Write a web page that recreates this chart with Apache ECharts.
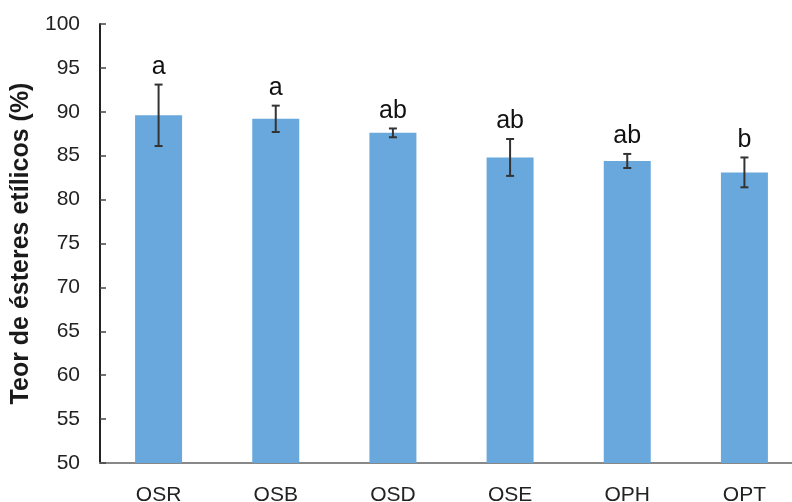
<!DOCTYPE html>
<html><head><meta charset="utf-8">
<script src="https://cdn.jsdelivr.net/npm/echarts@6/dist/echarts.min.js"></script>
<style>html,body{margin:0;padding:0;background:#fff;overflow:hidden}#c{width:803px;height:502px}</style>
</head><body><div id="c"></div>
<script>
const categories = ['OSR','OSB','OSD','OSE','OPH','OPT'];
const means = [89.6, 89.2, 87.6, 84.8, 84.4, 83.1];
const errors = [3.5, 1.5, 0.5, 2.1, 0.8, 1.7];
const letters = ['a','a','ab','ab','ab','b'];
const yTicks = [50,55,60,65,70,75,80,85,90,95,100];

const chart = echarts.init(document.getElementById('c'));
const font = 'Liberation Sans, Arial, Helvetica, sans-serif';
chart.setOption({
  animation: false,
  grid: {left: 100, top: 24, bottom: 39, right: 0, outerBoundsMode: 'none', containLabel: false},
  xAxis: {
    type: 'category', data: categories,
    axisLine: {lineStyle: {color: '#888', width: 2}},
    axisTick: {show: false},
    axisLabel: {color: '#222', fontSize: 21, fontFamily: font, margin: 22}
  },
  yAxis: {
    type: 'value', min: yTicks[0], max: yTicks[yTicks.length-1], interval: 5,
    name: 'Teor de ésteres etílicos (%)', nameLocation: 'middle', nameGap: 63,
    nameTextStyle: {fontSize: 25, fontWeight: 'bold', color: '#1a1a1a', fontFamily: font},
    axisLine: {show: true, lineStyle: {color: '#222', width: 2}},
    axisTick: {show: true, inside: true, length: 6, lineStyle: {color: '#444', width: 1.5}},
    splitLine: {show: false},
    axisLabel: {color: '#222', fontSize: 21, fontFamily: font, margin: 20}
  },
  series: [
    {type: 'bar', data: means, barWidth: 47, itemStyle: {color: '#69a8dc'}},
    {type: 'custom', data: means.map((m,i)=>[i, m, errors[i]]),
     renderItem: function(params, api){
       const i = api.value(0), m = api.value(1), e = api.value(2);
       const top = api.coord([i, m+e]);
       const bot = api.coord([i, m-e]);
       const x = top[0], cw = 4;
       const st = {stroke: '#333', lineWidth: 2};
       return {type: 'group', children: [
         {type: 'line', shape: {x1: x, y1: top[1], x2: x, y2: bot[1]}, style: st},
         {type: 'line', shape: {x1: x-cw, y1: top[1], x2: x+cw, y2: top[1]}, style: st},
         {type: 'line', shape: {x1: x-cw, y1: bot[1], x2: x+cw, y2: bot[1]}, style: st},
         {type: 'text', x: x, y: top[1]-5, style: {text: letters[i], fill: '#111', fontSize: 25, fontFamily: font, align: 'center', verticalAlign: 'bottom'}}
       ]};
     }, z: 5}
  ]
});
</script></body></html>
